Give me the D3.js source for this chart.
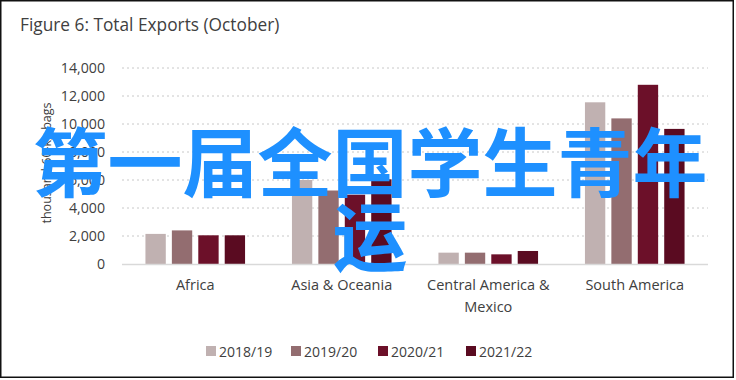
<!DOCTYPE html>
<html><head><meta charset="utf-8">
<script src="https://cdn.jsdelivr.net/npm/d3@7/dist/d3.min.js"></script>
<style>
body{margin:0;background:#fff;}
svg{display:block;}
text{font-family:"Open Sans","Noto Sans",sans-serif;fill:#404040;}
</style></head>
<body><svg id="c" width="736" height="380"></svg>
<script>
const categories = [["Africa"],["Asia & Oceania"],["Central America &","Mexico"],["South America"]];
const seriesNames = ["2018/19","2019/20","2020/21","2021/22"];
const v2018 = [2150, 6000, 810, 11550];
const v2019 = [2400, 5250, 810, 10400];
const v2020 = [2050, 4950, 690, 12800];
const v2021 = [2050, 6050, 930, 9650];
const yTicks = [0,2000,4000,6000,8000,10000,12000,14000];
const colors = ["#c0b1b1","#936d70","#6c1029","#5a0b21"];
const overlay = ["第一届全国学生青年","运"];

const series = [v2018, v2019, v2020, v2021];
const svg = d3.select("#c");
const m = {l:122, r:708, t:68, b:264};
const FONT = '"Open Sans","Noto Sans",sans-serif';

svg.append("rect").attr("x",0.75).attr("y",0.75).attr("width",732.5).attr("height",376.5)
  .attr("fill","#fff").attr("stroke","#111").attr("stroke-width",1.5);

svg.append("text").attr("x",20).attr("y",31).attr("font-size",17.3).attr("fill","#333")
  .text("Figure 6: Total Exports (October)");

const y = d3.scaleLinear().domain([0,14000]).range([m.b,m.t]);
const x0 = d3.scaleBand().domain(d3.range(categories.length)).range([m.l,m.r]).paddingInner(0.32).paddingOuter(0.16);
const x1 = d3.scaleBand().domain(d3.range(seriesNames.length)).range([0,x0.bandwidth()]).paddingInner(0.23).paddingOuter(0);

// gridlines
svg.append("g").selectAll("line").data(yTicks.filter(d=>d>0)).join("line")
  .attr("x1",m.l).attr("x2",m.r).attr("y1",d=>y(d)).attr("y2",d=>y(d))
  .attr("stroke","#c8c8c8").attr("stroke-width",1).attr("stroke-dasharray","2,3");

// y axis labels
const ya = svg.append("g").attr("transform",`translate(${m.l},0)`)
  .call(d3.axisLeft(y).tickValues(yTicks).tickSize(0).tickPadding(17).tickFormat(d3.format(",")));
ya.select(".domain").remove();
ya.selectAll("text").attr("font-size",14.2).attr("fill","#404040").attr("font-family",FONT);

svg.append("text").attr("transform",`translate(51,${(m.t+m.b)/2-3}) rotate(-90)`)
  .attr("text-anchor","middle").attr("font-size",12.5).text("thousand 60-kg bags");

// bars
const g = svg.append("g");
categories.forEach((c,i)=>{
  g.append("g").attr("transform",`translate(${x0(i)},0)`)
   .selectAll("rect").data(series.map(s=>s[i])).join("rect")
   .attr("x",(d,j)=>x1(j)).attr("width",x1.bandwidth())
   .attr("y",d=>y(d)).attr("height",d=>y(0)-y(d))
   .attr("fill",(d,j)=>colors[j]);
});

// baseline
svg.append("line").attr("x1",m.l).attr("x2",m.r).attr("y1",y(0)+0.5).attr("y2",y(0)+0.5)
  .attr("stroke","#d9d9d9").attr("stroke-width",1.5);

// category labels
const xa = svg.append("g").attr("transform",`translate(0,${m.b})`)
  .call(d3.axisBottom(x0).tickSize(0).tickFormat(""));
xa.select(".domain").remove();
xa.selectAll(".tick").each(function(d){
  const t = d3.select(this).append("text").attr("text-anchor","middle").attr("font-size",14.5)
    .attr("fill","#404040").attr("font-family",FONT);
  categories[d].forEach((ln,k)=>t.append("tspan").attr("x",0).attr("y",26+k*22).text(ln));
});

// legend
const lg = svg.append("g").attr("transform","translate(206,351)");
const lx = [0,85,172,260];
seriesNames.forEach((s,i)=>{
  const it = lg.append("g").attr("transform",`translate(${lx[i]},0)`);
  it.append("rect").attr("x",0).attr("y",-5).attr("width",10).attr("height",10).attr("fill",colors[i]);
  it.append("text").attr("x",13).attr("y",5.5).attr("font-size",14).text(s);
});

// overlay text
const ov = svg.append("text").attr("text-anchor","middle").attr("font-size",75).attr("font-weight",700)
  .style("font-family",'"Noto Sans CJK SC",sans-serif').style("fill","#1e90ff");
overlay.forEach((ln,k)=>ov.append("tspan").attr("x",370).attr("y",191+k*74).text(ln));
</script></body></html>
